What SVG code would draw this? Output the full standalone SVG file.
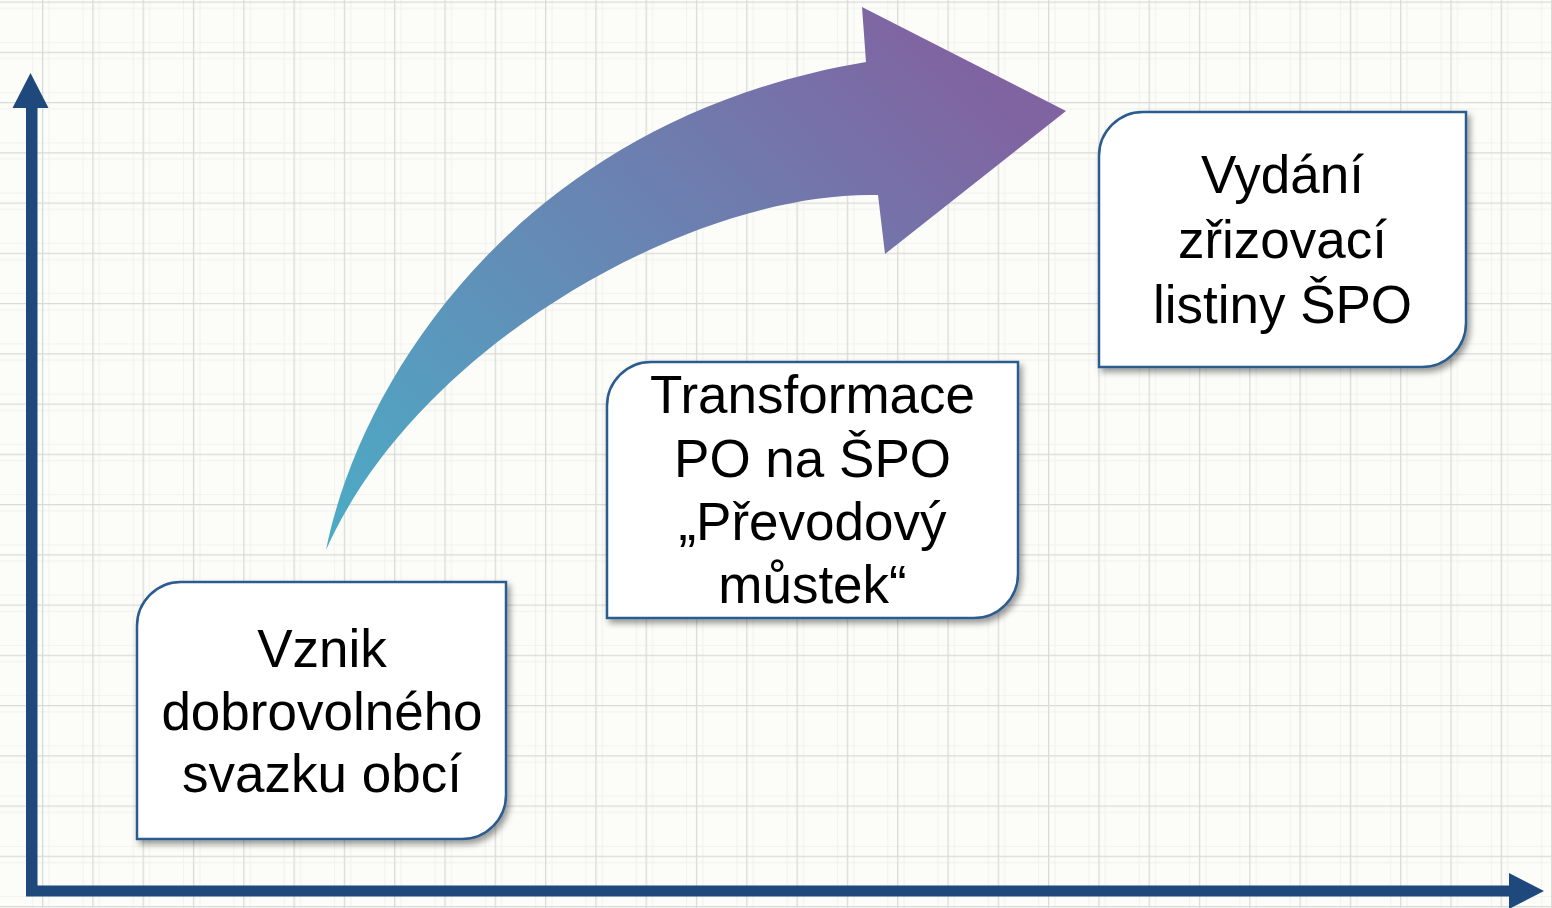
<svg xmlns="http://www.w3.org/2000/svg" width="1552" height="908" viewBox="0 0 1552 908">
  <style>
    .box { fill: #ffffff; stroke: #2c5b8f; stroke-width: 2.5; filter: url(#shadow); }
    .label { font-family: "Liberation Sans", Arial, sans-serif; font-size: 53px; fill: #000000; text-anchor: middle; }
    .axis { fill: #1f497d; }
  </style>
  <defs>
    <pattern id="grid" patternUnits="userSpaceOnUse" x="42" y="1.5" width="50.3" height="50.25">
      <rect x="0" y="0" width="50.3" height="50.25" fill="#fcfdf8"/>
      <line x1="7" y1="0" x2="7" y2="50.25" stroke="#f1f1ed" stroke-width="1"/>
      <line x1="41" y1="0" x2="41" y2="50.25" stroke="#f2f2ee" stroke-width="1"/>
      <line x1="0" y1="7" x2="50.3" y2="7" stroke="#f1f1ed" stroke-width="1"/>
      <line x1="0" y1="41" x2="50.3" y2="41" stroke="#f2f2ee" stroke-width="1"/>
      <line x1="0.6" y1="0" x2="0.6" y2="50.25" stroke="#dadad6" stroke-width="1.3"/>
      <line x1="0" y1="0.6" x2="50.3" y2="0.6" stroke="#dadad6" stroke-width="1.3"/>
    </pattern>
    <linearGradient id="arrowGrad" gradientUnits="userSpaceOnUse" x1="330" y1="550" x2="900" y2="0">
      <stop offset="0" stop-color="#4bacc6"/>
      <stop offset="1" stop-color="#8064a2"/>
    </linearGradient>
    <filter id="shadow" x="-10%" y="-10%" width="125%" height="125%">
      <feDropShadow dx="3" dy="4" stdDeviation="3" flood-color="#000000" flood-opacity="0.4"/>
    </filter>
  </defs>

  <rect x="0" y="0" width="1552" height="908" fill="url(#grid)"/>

  <g id="connectors">
    <path id="axis-y" class="axis" d="M26,896 V108 H12.5 L30.5,73 L48.5,108 H37.5 V896 Z"/>
    <path id="axis-x" class="axis" d="M26,885.5 H1509 V873 L1544,891 L1509,909 V896.5 H26 Z"/>
    <path id="growth-arrow" fill="url(#arrowGrad)" d="M326,550 C360,380 520,120 866,62 L862,7 L1066,111 L885,254 L878,195 C700,190 420,340 326,550 Z"/>
  </g>

  <g id="node-vznik">
    <path class="box" d="M181,582 H506 V795 A44,44 0 0 1 462,839 H137 V626 A44,44 0 0 1 181,582 Z"/>
    <text class="label" x="322" y="667">Vznik</text>
    <text class="label" x="322" y="730">dobrovolného</text>
    <text class="label" x="322" y="792">svazku obcí</text>
  </g>

  <g id="node-transformace">
    <path class="box" d="M651,362 H1018 V574 A44,44 0 0 1 974,618 H607 V406 A44,44 0 0 1 651,362 Z"/>
    <text class="label" x="812.5" y="413">Transformace</text>
    <text class="label" x="812.5" y="477">PO na ŠPO</text>
    <text class="label" x="812.5" y="540">„Převodový</text>
    <text class="label" x="812.5" y="603">můstek“</text>
  </g>

  <g id="node-vydani">
    <path class="box" d="M1143,112 H1466 V323 A44,44 0 0 1 1422,367 H1099 V156 A44,44 0 0 1 1143,112 Z"/>
    <text class="label" x="1282.5" y="193">Vydání</text>
    <text class="label" x="1282.5" y="258">zřizovací</text>
    <text class="label" x="1282.5" y="323">listiny ŠPO</text>
  </g>
</svg>
